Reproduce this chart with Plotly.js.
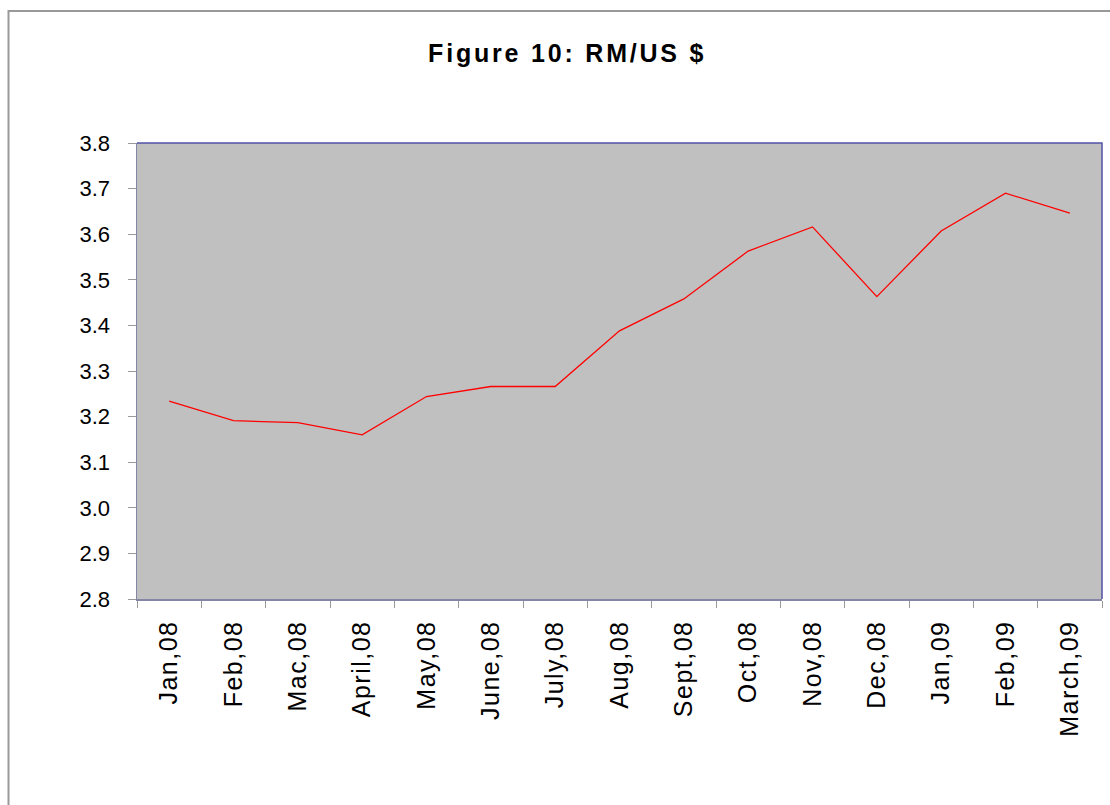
<!DOCTYPE html>
<html>
<head>
<meta charset="utf-8">
<script src="https://cdn.plot.ly/plotly-3.0.1.min.js"></script>
<style>
  html, body { margin: 0; padding: 0; background: #ffffff; }
  #chart { width: 1110px; height: 805px; }
  .xtick text { letter-spacing: 1.5px; }
  .gtitle { letter-spacing: 2.8px; }
</style>
</head>
<body>
<div id="chart"></div>
<script>
const months = ["Jan,08", "Feb,08", "Mac,08", "April,08", "May,08", "June,08", "July,08", "Aug,08",
                "Sept,08", "Oct,08", "Nov,08", "Dec,08", "Jan,09", "Feb,09", "March,09"];
const rmPerUsd = [3.234, 3.191, 3.187, 3.160, 3.244, 3.266, 3.266, 3.388,
                  3.458, 3.563, 3.616, 3.463, 3.607, 3.690, 3.646];
const yTickValues = [2.8, 2.9, 3.0, 3.1, 3.2, 3.3, 3.4, 3.5, 3.6, 3.7, 3.8];
const chartTitle = "Figure 10: RM/US $";

const trace = {
  type: "scatter",
  mode: "lines",
  x: months,
  y: rmPerUsd,
  line: { color: "#FF0000", width: 1.3 },
  hoverinfo: "x+y"
};

const layout = {
  width: 1110,
  height: 805,
  margin: { l: 137, r: 8, t: 143, b: 206, pad: 0 },
  paper_bgcolor: "#FFFFFF",
  plot_bgcolor: "#C0C0C0",
  showlegend: false,
  title: {
    text: "<b>" + chartTitle + "</b>",
    font: { family: "Liberation Sans, Arial, sans-serif", size: 25, color: "#000000" },
    xref: "container", yref: "container",
    x: 0.511, xanchor: "center",
    y: 1 - 53 / 805, yanchor: "middle"
  },
  xaxis: {
    type: "category",
    range: [-0.5, months.length - 0.5],
    tickson: "boundaries",
    ticks: "outside",
    ticklen: 7,
    tickcolor: "#999999",
    tickwidth: 1,
    tickangle: -90,
    ticklabelstandoff: 10,
    tickfont: { family: "Liberation Sans, Arial, sans-serif", size: 25, color: "#000000" },
    showgrid: false,
    zeroline: false,
    showline: true,
    linecolor: "#8585A5",
    linewidth: 1.5,
    fixedrange: true,
    automargin: false
  },
  yaxis: {
    range: [2.8, 3.8],
    tickmode: "array",
    tickvals: yTickValues,
    ticktext: yTickValues.map(v => v.toFixed(1)),
    ticks: "outside",
    ticklen: 8,
    tickcolor: "#999999",
    tickwidth: 1,
    ticklabelstandoff: 13,
    tickfont: { family: "Liberation Sans, Arial, sans-serif", size: 22, color: "#000000" },
    showgrid: false,
    zeroline: false,
    showline: true,
    linecolor: "#8585A5",
    linewidth: 1.5,
    fixedrange: true,
    automargin: false
  },
  shapes: [
    {
      type: "path",
      xref: "paper", yref: "paper",
      path: "M 0 1 L 1 1 L 1 0",
      line: { color: "#5252A8", width: 1.5 },
      layer: "above"
    },
    {
      type: "rect",
      xref: "paper", yref: "paper",
      x0: (8.5 - 137) / 965, x1: (1115 - 137) / 965,
      y0: (599 - 812) / 456, y1: 1 + (143 - 11) / 456,
      line: { color: "#999999", width: 2 },
      fillcolor: "rgba(0,0,0,0)",
      layer: "below"
    }
  ]
};

Plotly.newPlot("chart", [trace], layout, { displayModeBar: false, staticPlot: true });
</script>
</body>
</html>
